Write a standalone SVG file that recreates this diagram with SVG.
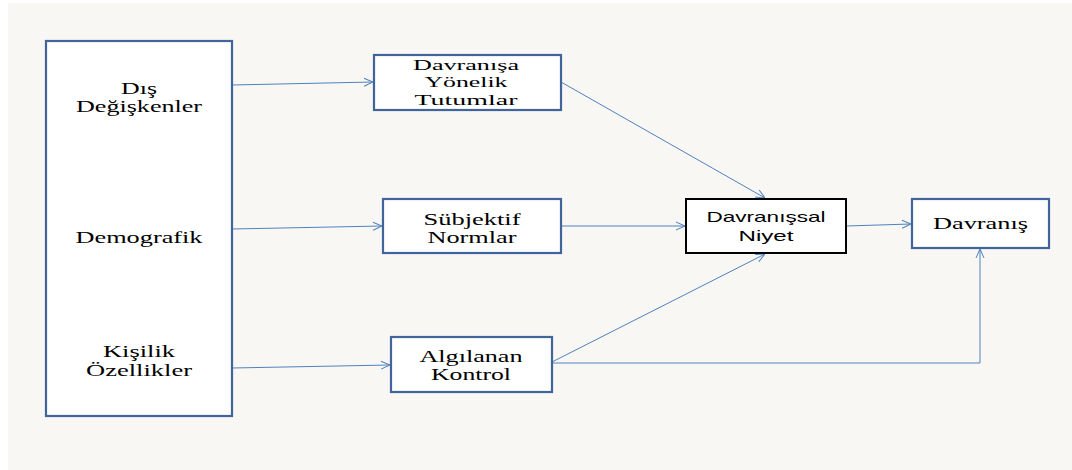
<svg xmlns="http://www.w3.org/2000/svg" width="1072" height="470" viewBox="0 0 1072 470">
  <style>
    .box { fill: #ffffff; stroke: #41659a; stroke-width: 2.2; }
    .box-dark { fill: #ffffff; stroke: #000000; stroke-width: 2; }
    .serif { font-family: "Liberation Serif", "Times New Roman", serif; fill: #000000; text-anchor: middle; }
    .sans { font-family: "Liberation Sans", Arial, sans-serif; fill: #000000; text-anchor: middle; }
    .link { fill: none; stroke: #4f81bd; stroke-width: 1; marker-end: url(#open); }
  </style>
  <defs>
    <marker id="open" viewBox="0 0 10 10" refX="10" refY="5" markerWidth="10" markerHeight="10" markerUnits="userSpaceOnUse" orient="auto">
      <path d="M1,1 L10,5 L1,9" fill="none" stroke="#4f81bd" stroke-width="1"/>
    </marker>
  </defs>

  <!-- backdrop panel -->
  <rect x="8" y="3" width="1064" height="467" fill="#f8f7f3"/>

  <!-- connectors -->
  <g id="connectors">
    <path class="link" d="M232,85 L373,82"/>
    <path class="link" d="M232,229 L382,226"/>
    <path class="link" d="M232,368 L390,365"/>
    <path class="link" d="M561,82 L765,198"/>
    <path class="link" d="M561,226 L685,226"/>
    <path class="link" d="M552,362 L765,254"/>
    <path class="link" d="M846,226 L911,224"/>
    <path class="link" d="M552,363 L980,363 L980,249"/>
  </g>

  <!-- left factor column -->
  <g id="factors">
    <rect class="box" x="46" y="41" width="186" height="375"/>
    <text class="serif" font-size="17" x="139" y="94" textLength="36" lengthAdjust="spacingAndGlyphs">Dış</text>
    <text class="serif" font-size="17" x="139" y="112" textLength="126" lengthAdjust="spacingAndGlyphs">Değişkenler</text>
    <text class="serif" font-size="17" x="139" y="243" textLength="127" lengthAdjust="spacingAndGlyphs">Demografik</text>
    <text class="serif" font-size="17" x="139" y="357" textLength="72" lengthAdjust="spacingAndGlyphs">Kişilik</text>
    <text class="serif" font-size="17" x="139" y="376" textLength="106" lengthAdjust="spacingAndGlyphs">Özellikler</text>
  </g>

  <g id="tutumlar">
    <rect class="box" x="374" y="55" width="187" height="55"/>
    <text class="serif" font-size="15" x="466" y="70" textLength="106" lengthAdjust="spacingAndGlyphs">Davranışa</text>
    <text class="serif" font-size="15" x="466" y="87" textLength="83" lengthAdjust="spacingAndGlyphs">Yönelik</text>
    <text class="serif" font-size="15" x="466" y="105" textLength="103" lengthAdjust="spacingAndGlyphs">Tutumlar</text>
  </g>

  <g id="normlar">
    <rect class="box" x="383" y="199" width="178" height="54"/>
    <text class="serif" font-size="16" x="472" y="225" textLength="97" lengthAdjust="spacingAndGlyphs">Sübjektif</text>
    <text class="serif" font-size="16" x="472" y="243" textLength="89" lengthAdjust="spacingAndGlyphs">Normlar</text>
  </g>

  <g id="kontrol">
    <rect class="box" x="391" y="337" width="161" height="55"/>
    <text class="serif" font-size="16" x="471" y="362" textLength="103" lengthAdjust="spacingAndGlyphs">Algılanan</text>
    <text class="serif" font-size="16" x="471" y="380" textLength="80" lengthAdjust="spacingAndGlyphs">Kontrol</text>
  </g>

  <g id="niyet">
    <rect class="box-dark" x="686" y="199" width="160" height="54"/>
    <text class="sans" font-size="15" x="766" y="222" textLength="119" lengthAdjust="spacingAndGlyphs">Davranışsal</text>
    <text class="sans" font-size="15" x="766" y="241" textLength="55" lengthAdjust="spacingAndGlyphs">Niyet</text>
  </g>

  <g id="davranis">
    <rect class="box" x="912" y="199" width="137" height="49"/>
    <text class="serif" font-size="16.5" x="980.5" y="229" textLength="95" lengthAdjust="spacingAndGlyphs">Davranış</text>
  </g>
</svg>
